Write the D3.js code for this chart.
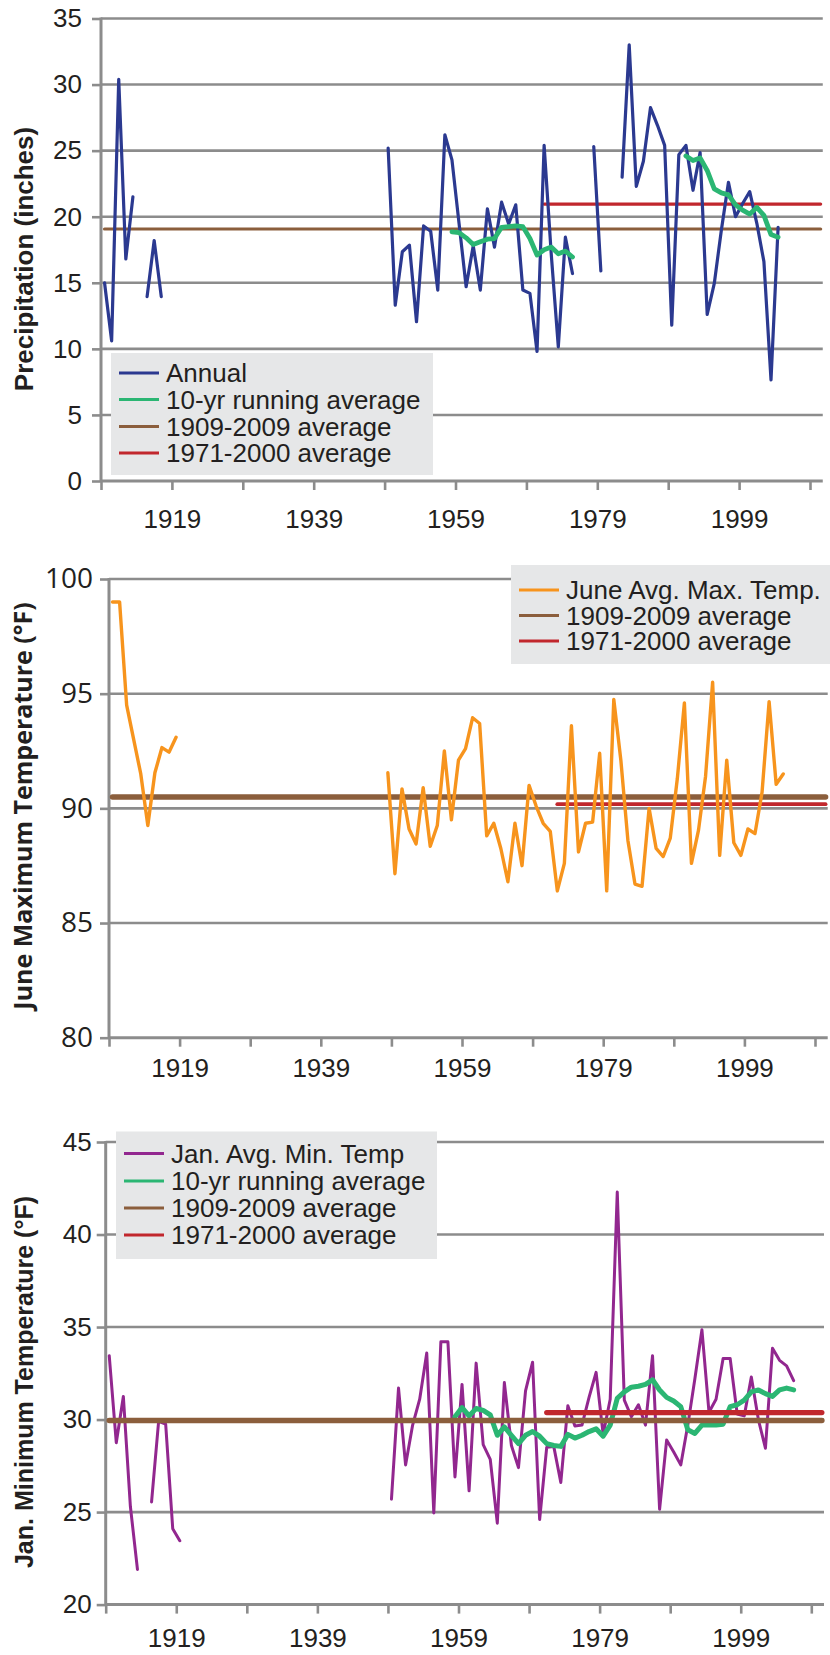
<!DOCTYPE html>
<html lang="en">
<head>
<meta charset="UTF-8" />
<title>Precipitation and temperature, 1909-2009</title>
<script src="https://cdn.jsdelivr.net/npm/d3@7"></script>
<style>
    body { margin: 0; background: #fff; }
    svg { display: block; }
</style>
</head>
<body>
<div id="container"></div>
<script>
// year categories on the x axis
const tickYears = [1909, 1919, 1929, 1939, 1949, 1959, 1969, 1979, 1989, 1999, 2009]
const labelYears = [1919, 1939, 1959, 1979, 1999]

// panel 1: annual precipitation (inches)
const precipTicks = [0, 5, 10, 15, 20, 25, 30, 35]
const precipAnnualA = [15.0, 10.6, 30.4, 16.8, 21.5, null, 13.95, 18.2, 13.95] // 1909-1917
const precipAnnualB = [ // 1949-2004
    25.2, 13.3, 17.35, 17.85, 12.05, 19.3, 18.9, 14.45, 26.2, 24.3,
    19.5, 14.7, 17.8, 14.45, 20.6, 17.7, 21.1, 19.45, 20.9, 14.45,
    14.2, 9.8, 25.4, 17.2, 10.15, 18.45, 15.7, null, null, 25.3,
    15.9, null, null, 23.0, 33.0, 22.3, 24.2, 28.25, 26.9, 25.4,
    11.8, 24.7, 25.4, 22.0, 24.85, 12.6, 14.95, 19.0, 22.6, 20.0,
    21.0, 21.9, 19.5, 16.6, 7.65, 19.2,
]
const precipRunningA = [18.85, 18.8, 18.4, 17.9, 18.1, 18.3, 18.35, 19.2, 19.25, 19.3, 19.25, 18.35, 17.1, 17.5, 17.7, 17.2, 17.4, 16.95] // 1958-1975
const precipRunningB = [24.6, 24.25, 24.45, 23.5, 22.1, 21.8, 21.65, 20.9, 20.5, 20.2, 20.7, 20.1, 18.65, 18.45] // 1991-2004
const precipAvgCentury = 19.07
const precipAvgNormal = 20.96

// panel 2: June average maximum temperature (F)
const juneTicks = [80, 85, 90, 95, 100]
const juneMaxA = [99.0, 99.0, 94.5, 93.0, 91.5, 89.25, 91.55, 92.65, 92.45, 93.1] // 1909-1918
const juneMaxB = [ // 1948-2004
    91.55, 87.15, 90.85, 89.1, 88.45, 90.9, 88.35, 89.25, 92.5, 89.5,
    92.1, 92.6, 93.95, 93.7, 88.8, 89.35, 88.25, 86.8, 89.35, 87.5,
    91.0, 90.1, 89.35, 89.0, 86.4, 87.6, 93.6, 88.1, 89.35, 89.4,
    92.4, 86.4, 94.75, 92.1, 88.6, 86.7, 86.6, 90.0, 88.25, 87.9,
    88.7, 91.3, 94.6, 87.6, 89.05, 91.4, 95.5, 87.95, 92.1, 88.5,
    87.95, 89.1, 88.9, 90.7, 94.65, 91.05, 91.5,
]
const juneAvgCentury = 90.5
const juneAvgNormal = 90.18

// panel 3: January average minimum temperature (F)
const janTicks = [20, 25, 30, 35, 40, 45]
const janMinA = [33.45, 28.75, 31.25, 25.3, 21.9, null, 25.55, 29.9, 29.75, 24.1, 23.45] // 1909-1919
const janMinB = [ // 1949-2006
    25.7, 31.7, 27.55, 29.7, 31.1, 33.6, 24.95, 34.2, 34.2, 26.9,
    31.9, 26.15, 33.05, 28.65, 27.85, 24.4, 32.0, 28.6, 27.4, 31.55,
    33.1, 24.6, 28.5, 28.55, 26.6, 30.75, 29.65, 29.7, 31.2, 32.55,
    29.2, 31.1, 42.3, 31.05, 30.15, 30.8, 29.7, 33.45, 25.15, 28.9,
    28.25, 27.55, 29.7, 32.2, 34.85, 30.4, 31.1, 33.3, 33.3, 30.3,
    30.2, 32.3, 30.0, 28.45, 33.85, 33.2, 32.9, 32.1,
]
const janRunning = [ // 1958-2006
    30.15, 30.65, 30.2, 30.6, 30.5, 30.25, 29.15, 29.6, 29.15, 28.7,
    29.15, 29.35, 29.1, 28.7, 28.6, 28.55, 29.2, 29.0, 29.15, 29.35,
    29.5, 29.1, 29.7, 31.15, 31.5, 31.75, 31.8, 31.9, 32.15, 31.6,
    31.2, 31.0, 30.7, 29.45, 29.25, 29.7, 29.7, 29.7, 29.75, 30.7,
    30.8, 31.05, 31.5, 31.6, 31.4, 31.25, 31.6, 31.7, 31.6,
]
const janAvgCentury = 29.95
const janAvgNormal = 30.38

const C = {
    grid: '#8c8c8c',
    text: '#231f20',
    legendBg: '#e6e7e8',
    blue: '#2b3990',
    green: '#2bb673',
    brown: '#8b5e3c',
    red: '#c1272d',
    orange: '#f7941d',
    purple: '#92278f',
}
const ARIAL = '"Liberation Sans", Arial, sans-serif'
const MYRIAD = '"Open Sans", "Liberation Sans", sans-serif'

// values listed from a start year -> [{year, value}]
const series = (start, values) => values.map((v, i) => ({ year: start + i, value: v }))

const panels = [
    {
        x0: 101, x2009: 810, top: 18.5, bottom: 481, domain: [0, 35],
        ticks: precipTicks, tickFont: ARIAL, tickSize: 26, tickPad: 10,
        xLabelPad: 20,
        title: 'Precipitation (inches)', titleFont: ARIAL, titleSize: 26, titleX: 24, titleY: 259,
        lines: [
            { data: series(1909, precipAnnualA), color: C.blue, width: 3.2 },
            { data: series(1949, precipAnnualB), color: C.blue, width: 3.2 },
            { data: series(1958, precipRunningA), color: C.green, width: 4.8 },
            { data: series(1991, precipRunningB), color: C.green, width: 4.8 },
        ],
        refs: [
            { value: precipAvgCentury, from: 1909, to: 2010, color: C.brown, width: 3.2 },
            { value: precipAvgNormal, from: 1971, to: 2010, color: C.red, width: 3.2 },
        ],
        refsFirst: true,
        legend: {
            x: 111, y: 353, w: 322, h: 122, rows: [373, 399.5, 426.5, 453],
            items: [
                ['Annual', C.blue], ['10-yr running average', C.green],
                ['1909-2009 average', C.brown], ['1971-2000 average', C.red],
            ],
        },
    },
    {
        x0: 109, x2009: 815, top: 579, bottom: 1037.7, domain: [80, 100],
        ticks: juneTicks, tickFont: MYRIAD, tickSize: 28, tickPad: 7,
        xLabelPad: 12,
        title: 'June Maximum Temperature (°F)', titleFont: MYRIAD, titleSize: 25, titleX: 23, titleY: 806,
        lines: [
            { data: series(1909, juneMaxA), color: C.orange, width: 3.4 },
            { data: series(1948, juneMaxB), color: C.orange, width: 3.4 },
        ],
        refs: [
            { value: juneAvgCentury, from: 1909, to: 2010, color: C.brown, width: 5.5 },
            { value: juneAvgNormal, from: 1972, to: 2010, color: C.red, width: 3.8 },
        ],
        refsFirst: true,
        legend: {
            x: 511, y: 565, w: 330, h: 99, rows: [590, 615.5, 641],
            items: [
                ['June Avg. Max. Temp.', C.orange],
                ['1909-2009 average', C.brown], ['1971-2000 average', C.red],
            ],
        },
    },
    {
        x0: 105.7, x2009: 811.3, top: 1142, bottom: 1604.6, domain: [20, 45],
        ticks: janTicks, tickFont: ARIAL, tickSize: 26, tickPad: 5,
        xLabelPad: 15,
        title: 'Jan. Minimum Temperature (°F)', titleFont: ARIAL, titleSize: 25, titleX: 24, titleY: 1382,
        lines: [
            { data: series(1909, janMinA), color: C.purple, width: 3 },
            { data: series(1949, janMinB), color: C.purple, width: 3 },
            { data: series(1958, janRunning), color: C.green, width: 5 },
        ],
        refs: [
            { value: janAvgCentury, from: 1909, to: 2010, color: C.brown, width: 5.5 },
            { value: janAvgNormal, from: 1971, to: 2010, color: C.red, width: 5.2 },
        ],
        refsFirst: false,
        legend: {
            x: 116, y: 1131.5, w: 321, h: 127.5, rows: [1153.5, 1181, 1208, 1235],
            items: [
                ['Jan. Avg. Min. Temp', C.purple], ['10-yr running average', C.green],
                ['1909-2009 average', C.brown], ['1971-2000 average', C.red],
            ],
        },
    },
]

const svg = d3.select('#container').append('svg').attr('width', 830).attr('height', 1655)

const drawPanel = (p) => {
    const g = svg.append('g')
    const x = d3.scaleLinear().domain([1909, 2009]).range([p.x0, p.x2009])
    const y = d3.scaleLinear().domain(p.domain).range([p.bottom, p.top])
    const xRight = x(2010.8)

    // horizontal gridlines (the lowest one is the x axis line)
    g.selectAll('.grid')
        .data(p.ticks)
        .enter()
        .append('line')
        .attr('x1', p.x0)
        .attr('x2', xRight)
        .attr('y1', (d) => y(d))
        .attr('y2', (d) => y(d))
        .style('stroke', C.grid)
        .style('stroke-width', (d, i) => (i === 0 ? 3 : 2.6))

    // legend box sits on the gridlines
    const lg = g.append('g')
    lg.append('rect')
        .attr('x', p.legend.x)
        .attr('y', p.legend.y)
        .attr('width', p.legend.w)
        .attr('height', p.legend.h)
        .style('fill', C.legendBg)
    p.legend.items.forEach(([label, color], i) => {
        const cy = p.legend.rows[i]
        lg.append('line')
            .attr('x1', p.legend.x + 8)
            .attr('x2', p.legend.x + 48)
            .attr('y1', cy)
            .attr('y2', cy)
            .style('stroke', color)
            .style('stroke-width', 3.2)
        lg.append('text')
            .attr('x', p.legend.x + 55)
            .attr('y', cy)
            .attr('dy', '0.35em')
            .text(label)
            .style('font-family', ARIAL)
            .style('font-size', '26px')
            .style('fill', C.text)
    })

    // y axis
    const yAxis = g
        .append('g')
        .attr('transform', `translate(${p.x0},0)`)
        .call(d3.axisLeft(y).tickValues(p.ticks).tickSize(9).tickPadding(p.tickPad))
    yAxis.select('.domain').remove()
    yAxis.selectAll('line').style('stroke', C.grid).style('stroke-width', 2.6)
    yAxis.selectAll('text')
        .style('font-family', p.tickFont)
        .style('font-size', p.tickSize + 'px')
        .style('fill', C.text)
    g.append('line')
        .attr('x1', p.x0)
        .attr('x2', p.x0)
        .attr('y1', p.top - 1)
        .attr('y2', p.bottom + 1)
        .style('stroke', C.grid)
        .style('stroke-width', 3)

    // x axis ticks and year labels
    const xAxis = g
        .append('g')
        .attr('transform', `translate(0,${p.bottom})`)
        .call(
            d3.axisBottom(x)
                .tickValues(tickYears)
                .tickSize(9)
                .tickPadding(p.xLabelPad)
                .tickFormat((d) => (labelYears.includes(d) ? String(d) : ''))
        )
    xAxis.select('.domain').remove()
    xAxis.selectAll('line').style('stroke', C.grid).style('stroke-width', 2.6)
    xAxis.selectAll('text')
        .style('font-family', ARIAL)
        .style('font-size', '26px')
        .style('fill', C.text)

    // title
    g.append('text')
        .attr('transform', `translate(${p.titleX},${p.titleY}) rotate(-90)`)
        .attr('text-anchor', 'middle')
        .attr('dy', '0.35em')
        .text(p.title)
        .style('font-family', p.titleFont)
        .style('font-weight', 'bold')
        .style('font-size', p.titleSize + 'px')
        .style('fill', C.text)

    const drawRefs = () => {
        p.refs.forEach((r) => {
            g.append('line')
                .attr('x1', x(r.from + 0.5))
                .attr('x2', x(r.to + 0.5))
                .attr('y1', y(r.value))
                .attr('y2', y(r.value))
                .style('stroke', r.color)
                .style('stroke-width', r.width)
                .style('stroke-linecap', 'round')
        })
    }

    const line = d3
        .line()
        .defined((d) => d.value != null)
        .x((d) => x(d.year + 0.5))
        .y((d) => y(d.value))

    if (p.refsFirst) drawRefs()
    p.lines.forEach((s) => {
        g.append('path')
            .attr('d', line(s.data))
            .style('fill', 'none')
            .style('stroke', s.color)
            .style('stroke-width', s.width)
            .style('stroke-linejoin', 'round')
            .style('stroke-linecap', 'round')
    })
    if (!p.refsFirst) drawRefs()
}

panels.forEach(drawPanel)
</script>
</body>
</html>
